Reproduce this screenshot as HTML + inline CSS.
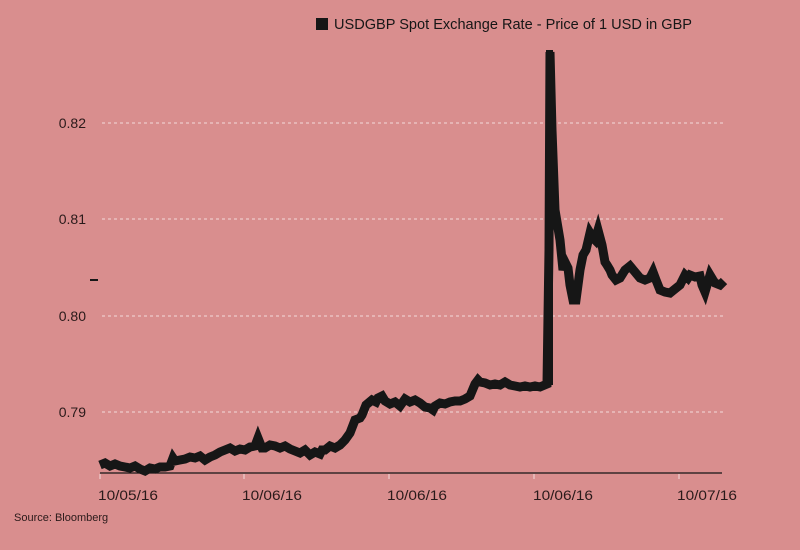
<!DOCTYPE html>
<html><head><meta charset="utf-8"><style>
html,body{margin:0;padding:0;background:#d98e8e;}
svg{display:block;font-family:"Liberation Sans",sans-serif;}
</style></head><body>
<svg width="800" height="550" viewBox="0 0 800 550">
<rect width="800" height="550" fill="#d98e8e"/>
<rect x="316" y="18" width="12" height="12" fill="#161616"/>
<text x="334" y="29" font-size="15" fill="#161616" textLength="358" lengthAdjust="spacingAndGlyphs">USDGBP Spot Exchange Rate - Price of 1 USD in GBP</text>
<g stroke="#f3dada" stroke-width="1" stroke-dasharray="3,3">
<line x1="102" y1="123" x2="724" y2="123"/>
<line x1="102" y1="219" x2="724" y2="219"/>
<line x1="102" y1="316" x2="724" y2="316"/>
<line x1="102" y1="412" x2="724" y2="412"/>
</g>
<g font-size="14" fill="#2a1a1a" text-anchor="end">
<text x="86" y="128">0.82</text>
<text x="86" y="224">0.81</text>
<text x="86" y="321">0.80</text>
<text x="86" y="417">0.79</text>
</g>
<line x1="90" y1="280" x2="98" y2="280" stroke="#161616" stroke-width="2"/>
<line x1="100" y1="473" x2="722" y2="473" stroke="#161616" stroke-width="1.2"/>
<g stroke="#f3dada" stroke-width="1">
<line x1="100" y1="474" x2="100" y2="479"/>
<line x1="244" y1="474" x2="244" y2="479"/>
<line x1="389" y1="474" x2="389" y2="479"/>
<line x1="534" y1="474" x2="534" y2="479"/>
<line x1="679" y1="474" x2="679" y2="479"/>
</g>
<g font-size="14" fill="#2a1a1a">
<text x="98" y="500" textLength="60" lengthAdjust="spacingAndGlyphs">10/05/16</text>
<text x="242" y="500" textLength="60" lengthAdjust="spacingAndGlyphs">10/06/16</text>
<text x="387" y="500" textLength="60" lengthAdjust="spacingAndGlyphs">10/06/16</text>
<text x="533" y="500" textLength="60" lengthAdjust="spacingAndGlyphs">10/06/16</text>
<text x="677" y="500" textLength="60" lengthAdjust="spacingAndGlyphs">10/07/16</text>
</g>
<text x="14" y="521" font-size="11" fill="#2a1a1a">Source: Bloomberg</text>
<polyline fill="none" stroke="#161616" stroke-width="9" stroke-linejoin="miter" points="100,465 105,463 110,466 115,464 120,466 125,467 130,468 135,466 140,469 145,471 150,468 155,469 160,467 165,467 170,466 173,458 175,461 180,460 185,459 190,457 195,458 200,456 205,460 210,457 215,455 220,452 225,450 230,448 235,451 240,449 245,450 250,447 255,446 258,438 262,448 265,448 270,445 275,446 280,448 285,446 290,449 295,451 300,453 305,450 310,455 315,452 320,454 322,450 325,450 330,446 335,448 340,445 345,440 350,433 355,420 360,418 362,415 366,405 372,400 376,402 378,398 382,396 385,401 390,404 395,402 400,406 405,399 410,402 415,400 420,403 425,407 430,408 433,410 435,406 440,403 445,404 450,402 455,401 460,401 465,399 470,396 475,384 478,380 480,382 485,383 490,385 495,384 500,385 505,382 510,385 515,386 520,387 525,386 530,387 535,386 540,387 547,384 549,250 550,52 552,130 555,210 560,240 563,270 565,262 568,268 570,285 573,300 576,300 580,270 583,255 586,250 590,233 593,238 595,240 598,230 602,245 605,262 607,265 610,270 612,275 616,280 620,278 625,270 630,266 635,272 640,278 645,280 650,278 653,272 656,280 660,290 665,292 670,293 675,289 680,285 685,275 688,278 690,275 695,277 700,276 702,285 705,292 710,275 713,280 715,283 720,285 724,281"/>
<rect x="546" y="50" width="7" height="335" fill="#161616"/>
</svg>
</body></html>
